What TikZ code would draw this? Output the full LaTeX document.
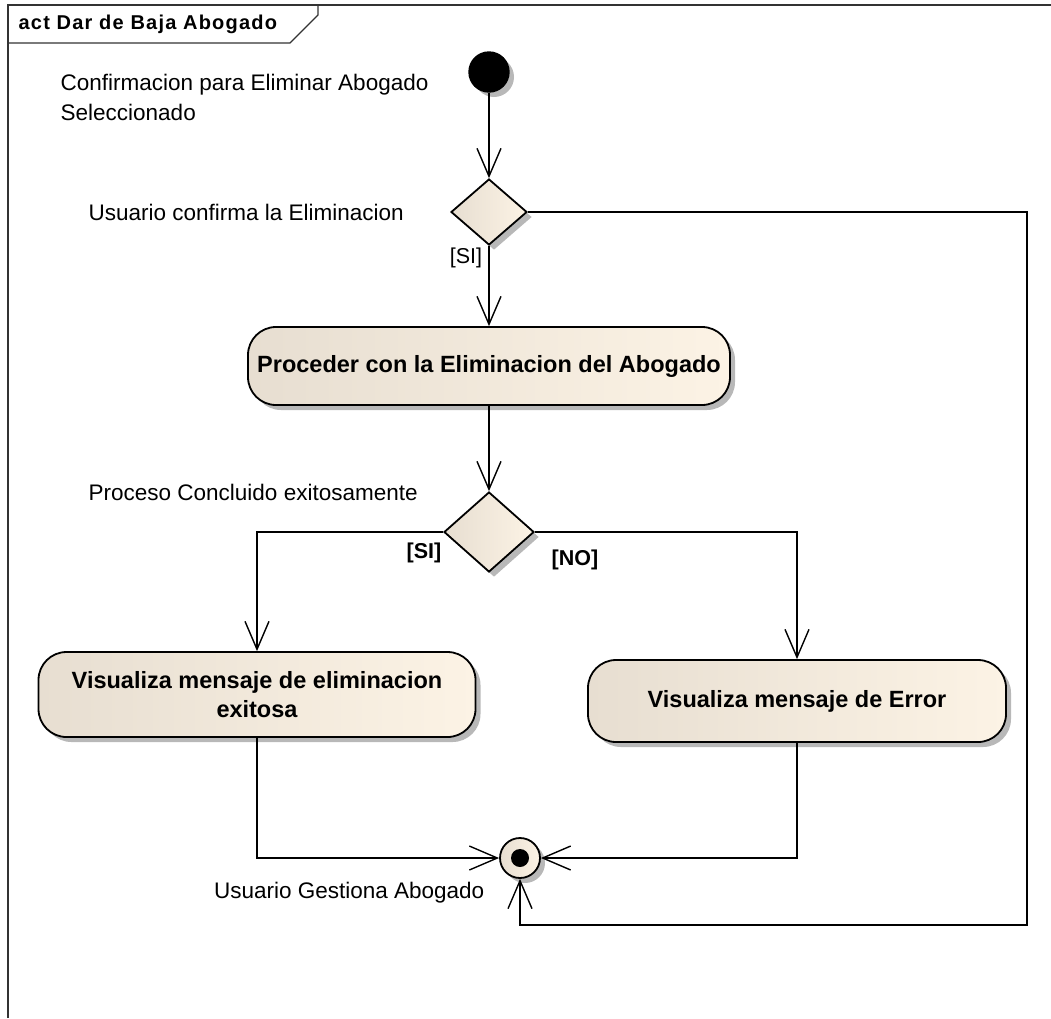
\documentclass[tikz,border=0pt]{standalone}
\usepackage{fontspec}
\setmainfont{Liberation Sans}
\usetikzlibrary{arrows.meta,shapes.geometric,shadows}
\definecolor{actleft}{HTML}{E7DED1}
\definecolor{actright}{HTML}{FCF3E5}

\begin{document}
\begin{tikzpicture}[x=1pt,y=-1pt,line width=1.4pt,
  >={Straight Barb[length=28pt,width=24pt]},
  sombra/.style={drop shadow={shadow xshift=5pt,shadow yshift=-5pt,fill=black!28,opacity=1}},
  relleno/.style={left color=actleft,right color=actright},
  accion/.style={sombra,relleno,draw,rectangle,rounded corners=28pt,line width=1.8pt,
    font=\fontsize{23.5}{29}\selectfont\bfseries,align=center},
  decision/.style={sombra,relleno,draw,diamond,inner sep=0pt,line width=1.8pt},
  etiq/.style={font=\fontsize{22.5}{30}\selectfont,align=left,inner sep=0pt},
  guarda/.style={font=\fontsize{21.5}{24}\selectfont,inner sep=0pt}]
\useasboundingbox (0,0) rectangle (1051,1018);
% marco
\draw[line width=1.3pt,black!80] (8,1018) -- (8,5) -- (1051,5);
\draw[line width=1.3pt,black!80] (8,43) -- (290,43) -- (318,15) -- (318,5);
\node[anchor=west,inner sep=0pt,font=\fontsize{20}{24}\selectfont\bfseries\addfontfeature{LetterSpace=6}] (titulo) at (18,24) {act Dar de Baja Abogado};
% nodos
\node[circle,fill=black,draw,minimum size=40pt,sombra] (inicio) at (489,72) {};
\node[decision,minimum width=76pt,minimum height=66pt] (d1) at (489,212) {};
\node[accion,minimum width=482pt,minimum height=78pt] (proc) at (489,366) {Proceder con la Eliminacion del Abogado};
\node[decision,minimum width=90pt,minimum height=80pt] (d2) at (489,532) {};
\node[accion,minimum width=437pt,minimum height=85pt] (exito) at (257,694.5) {Visualiza mensaje de eliminacion\\exitosa};
\node[accion,minimum width=418pt,minimum height=82pt] (error) at (797,701) {Visualiza mensaje de Error};
\node[circle,draw,relleno,sombra,line width=1.8pt,minimum size=40pt] (fin) at (520,858) {};
\fill (fin) circle (9pt);
% textos
\node[etiq,anchor=west] (t1) at (60,97) {Confirmacion para Eliminar Abogado\\Seleccionado};
\node[etiq,anchor=west] (t2) at (88,212) {Usuario confirma la Eliminacion};
\node[etiq,anchor=west] (t3) at (88,492) {Proceso Concluido exitosamente};
\node[etiq,anchor=east] (t4) at (485,893) {Usuario Gestiona Abogado};
\node[guarda] (g1) at (466,258) {[SI]};
\node[guarda,font=\fontsize{21.5}{24}\selectfont\bfseries] (g2) at (424,553) {[SI]};
\node[guarda,font=\fontsize{21.5}{24}\selectfont\bfseries] (g3) at (575,560) {[NO]};
% flujos
\draw[->] (inicio) -- (d1);
\draw[->] (d1) -- (proc);
\draw[->] (proc) -- (d2);
\draw[->] (d2.west) -| (exito.north);
\draw[->] (d2.east) -| (error.north);
\draw[->] (exito.south) |- (fin.west);
\draw[->] (error.south) |- (fin.east);
\coordinate (esq) at (1027,925);
\draw[->] (d1.east) -| (esq) -| (fin.south);
\end{tikzpicture}
\end{document}
